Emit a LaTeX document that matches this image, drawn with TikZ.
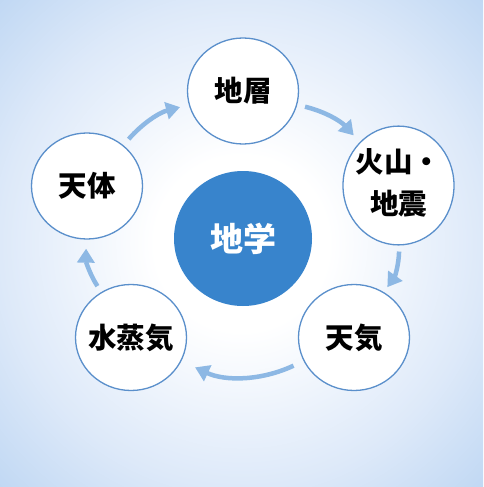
\documentclass[tikz,border=0pt]{standalone}
\usepackage{fontspec}
\newfontfamily\jp{Noto Sans CJK JP}
\usetikzlibrary{shapes.geometric,arrows.meta}
\definecolor{ring}{HTML}{5A8FCB}
\definecolor{hub}{HTML}{3884CC}
\definecolor{arr}{HTML}{8DB8E4}
\definecolor{bgedge}{HTML}{BFD7F3}
\definecolor{bgmid}{HTML}{DDE9F9}
\pgfdeclareradialshading{bgshade}{\pgfpoint{0bp}{0bp}}{color(0bp)=(white); color(9bp)=(white); color(25bp)=(bgmid); color(36bp)=(bgedge); color(50bp)=(bgedge)}
\newcommand{\lbl}[2][2.5pt]{\makebox[0pt]{\raisebox{#1}{#2}}}
\begin{document}
\begin{tikzpicture}[x=1pt,y=1pt,
  topic/.style={draw=ring, line width=1.3pt, fill=white, ellipse, inner sep=0pt,
    minimum width=111pt, minimum height=106pt,
    font=\jp\bfseries\fontsize{28.5}{42}\selectfont},
  flow/.style={draw=arr, line width=4.5pt, -{Triangle[length=14pt,width=17pt]},
    bend left=17, shorten <=8pt, shorten >=9pt}]
\shade[shading=bgshade] (0,0) rectangle (483,-487);
\useasboundingbox (0,0) rectangle (483,-487);
\node[topic] (strata) at (243,-91) {\lbl{地層}};
\node[topic] (volc) at (398.5,-185.5) {\lbl[1pt]{\begin{tabular}{@{}c@{}}火山・\\地震\end{tabular}}};
\node[topic] (weather) at (354,-337.5) {\lbl{天気}};
\node[topic] (vapor) at (131,-337.5) {\lbl{水蒸気}};
\node[topic] (sky) at (87,-186) {\lbl{天体}};
\node[ellipse, fill=hub, inner sep=0pt, minimum width=138pt, minimum height=135pt,
  text=white, font=\jp\bfseries\fontsize{33}{40}\selectfont] (hub) at (243,-238.5) {\lbl[-6pt]{地学}};
\draw[flow] (strata) to (volc);
\draw[flow, shorten <=6pt, shorten >=6pt] (volc) to (weather);
\draw[flow, bend left=25, shorten <=11pt, shorten >=15pt] (weather) to (vapor);
\draw[flow, shorten <=7pt] (vapor) to (sky);
\draw[flow] (sky) to (strata);
\end{tikzpicture}
\end{document}
